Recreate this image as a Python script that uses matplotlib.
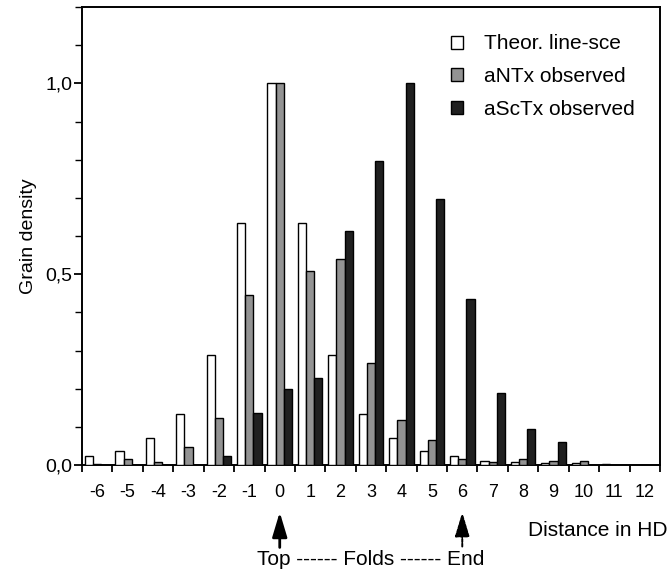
import numpy as np
import matplotlib
matplotlib.use("Agg")
import matplotlib.pyplot as plt
from matplotlib.patches import Patch
from matplotlib.ticker import MultipleLocator, FixedLocator

plt.rcParams['font.family'] = ['Liberation Sans', 'DejaVu Sans']

distance = [-6, -5, -4, -3, -2, -1, 0, 1, 2, 3, 4, 5, 6, 7, 8, 9, 10, 11, 12]
theor = [0.024, 0.037, 0.070, 0.134, 0.288, 0.633, 1.000, 0.633, 0.288, 0.134,
         0.070, 0.037, 0.024, 0.011, 0.008, 0.004, 0.004, 0.003, 0.0]
antx = [0.003, 0.017, 0.009, 0.048, 0.122, 0.445, 1.000, 0.509, 0.541, 0.266,
        0.118, 0.065, 0.017, 0.008, 0.017, 0.011, 0.011, 0.0, 0.0]
asctx = [0.0, 0.0, 0.0, 0.0, 0.024, 0.136, 0.200, 0.227, 0.613, 0.796,
         1.000, 0.698, 0.436, 0.188, 0.094, 0.061, 0.0, 0.0, 0.0]
series_names = ["Theor. line-sce", "aNTx observed", "aScTx observed"]
y_ticklabels = ["0,0", "0,5", "1,0"]

fig = plt.figure(figsize=(6.7, 5.76), dpi=100)
ax = fig.add_axes([82/670, 1-465/576, (660-82)/670, (465-7)/576])

x = np.array(distance, dtype=float)
w = 0.27
kw = dict(width=w, edgecolor='black', linewidth=1.0, zorder=3)
ax.bar(x - w, theor, facecolor='white', **kw)
ax.bar(x, antx, facecolor='#939393', **kw)
ax.bar(x + w, asctx, facecolor='#202020', **kw)

ax.set_xlim(-6.5, 12.5)
ax.set_ylim(0, 1.2)

# x: tick marks at group boundaries, labels at group centers
ax.xaxis.set_major_locator(FixedLocator(np.arange(-6.5, 12.6, 1.0)))
ax.xaxis.set_minor_locator(FixedLocator(x))
ax.set_xticklabels([])
ax.set_xticklabels([str(d) for d in distance], minor=True)
ax.tick_params(axis='x', which='major', direction='out', length=5, width=1.3)
ax.tick_params(axis='x', which='minor', length=0, pad=14, labelsize=13)

ax.yaxis.set_major_locator(FixedLocator([0.0, 0.5, 1.0]))
ax.set_yticklabels(y_ticklabels)
ax.yaxis.set_minor_locator(MultipleLocator(0.1))
ax.tick_params(axis='y', which='major', direction='out', length=6, width=1.3, labelsize=14, pad=1)
ax.tick_params(axis='y', which='minor', direction='out', length=5, width=1.0)

for s in ax.spines.values():
    s.set_linewidth(1.4)

ax.set_ylabel("Grain density", fontsize=14, labelpad=6)

handles = [Patch(facecolor='white', edgecolor='black', linewidth=1.0),
           Patch(facecolor='#939393', edgecolor='black', linewidth=1.0),
           Patch(facecolor='#202020', edgecolor='black', linewidth=1.0)]
ax.legend(handles, series_names, loc='upper left', bbox_to_anchor=(0.638, 0.940),
          frameon=False, fontsize=15, handlelength=0.6, handleheight=0.6,
          handletextpad=1.0, labelspacing=0.65, borderaxespad=0, borderpad=0)

# arrows under the axis
trans = ax.get_xaxis_transform()
ax.annotate("", xy=(0, -0.103), xytext=(0, -0.180), xycoords=trans, textcoords=trans,
            arrowprops=dict(arrowstyle='-|>,head_width=0.45,head_length=1.5',
                            color='black', lw=2.0, shrinkA=0, shrinkB=0),
            annotation_clip=False)
ax.annotate("", xy=(6, -0.103), xytext=(6, -0.178), xycoords=trans, textcoords=trans,
            arrowprops=dict(arrowstyle='-|>,head_width=0.45,head_length=1.5',
                            color='black', lw=1.4, linestyle=(0, (1.5, 0.8)),
                            shrinkA=0, shrinkB=0),
            annotation_clip=False)
ax.text(3, -0.207, "Top ------ Folds ------ End", transform=trans, ha='center', va='center',
        fontsize=15)
fig.text(668/670, 1-530/576, "Distance in HD", ha='right', va='center', fontsize=15)

fig.savefig("out.png", dpi=100)
